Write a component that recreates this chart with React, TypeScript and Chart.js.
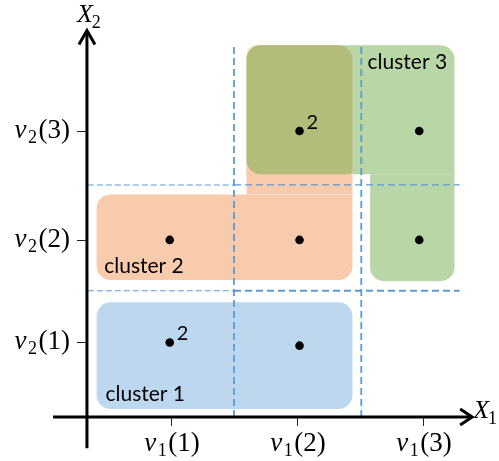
import React, { useEffect, useRef } from 'react';
import { Chart, registerables } from 'chart.js';

Chart.register(...registerables);

// ---- tick positions & labels (v1(k) on X1, v2(k) on X2)
const xTickValues = [1, 2, 3];
const xTickIndex = ['1', '2', '3'];
const yTickValues = [1, 1.97, 3];
const yTickIndex = ['1', '2', '3'];

// ---- observation points and their multiplicity notes
const pointX = [0.99, 2.02, 0.99, 2.02, 2.02, 2.97, 2.97];
const pointY = [1.0, 0.97, 1.97, 1.97, 3.0, 3.0, 1.97];
const pointCount = ['2', '', '', '', '2', '', ''];

// ---- dashed partition lines
const splitXValues = [1.5, 2.51];
const splitYValues = [1.49, 2.49];
const splitXSpan = [0.296, 3.82];
const splitYSpan = [0.34, 3.29];

// ---- cluster regions [x0, x1, y0, y1]
const cluster1Rects = [[0.41, 2.44, 0.37, 1.38]];
const cluster2Rects = [[0.41, 2.44, 1.59, 2.40], [1.6, 2.44, 2.40, 3.81]];
const cluster3Rects = [[1.6, 3.25, 2.59, 3.81], [2.58, 3.25, 1.58, 2.59]];
const overlapRect = [1.6, 2.44, 2.59, 3.81];

const clusterNames = ['cluster 1', 'cluster 2', 'cluster 3'];
const clusterLabelX = [0.48, 0.47, 2.56];
const clusterLabelY = [0.45, 1.66, 3.59];

// ---- axes
const origin = [0.333, 0.296];
const xAxisSpan = [0.064, 3.39];
const yAxisSpan = [0.0, 3.95];
const viewX = [-0.357, 3.603];
const viewY = [-0.1206, 4.2388];

const BLUE = '#BDD7EE';
const ORANGE = '#F8CBAD';
const GREEN = '#B9D7A6';
const OLIVE = '#B3BC7B';
const DASH = '#5B9BD5';

function roundedPath(ctx: CanvasRenderingContext2D, l: number, t: number, r: number, b: number, rad: number[]) {
  const [tl, tr, br, bl] = rad;
  ctx.beginPath();
  ctx.moveTo(l + tl, t);
  ctx.lineTo(r - tr, t);
  if (tr) ctx.arcTo(r, t, r, t + tr, tr); else ctx.lineTo(r, t);
  ctx.lineTo(r, b - br);
  if (br) ctx.arcTo(r, b, r - br, b, br); else ctx.lineTo(r, b);
  ctx.lineTo(l + bl, b);
  if (bl) ctx.arcTo(l, b, l, b - bl, bl); else ctx.lineTo(l, b);
  ctx.lineTo(l, t + tl);
  if (tl) ctx.arcTo(l, t, l + tl, t, tl); else ctx.lineTo(l, t);
  ctx.closePath();
}

const SERIF = '"Liberation Serif", "Times New Roman", serif';

function drawVLabel(ctx: CanvasRenderingContext2D, sub: string, idx: string, x: number, cy: number, align: 'center' | 'right') {
  const fMain = `italic 27px ${SERIF}`;
  const fUp = `27px ${SERIF}`;
  const fSub = `18px ${SERIF}`;
  ctx.font = fMain;
  const wv = ctx.measureText('v').width;
  ctx.font = fSub;
  const ws = ctx.measureText(sub).width;
  ctx.font = fUp;
  const wp = ctx.measureText('(' + idx + ')').width;
  const gap = 1.5;
  const total = wv + ws + wp + gap * 2;
  let x0 = align === 'center' ? x - total / 2 : x - total;
  const base = cy + 7;
  ctx.textAlign = 'left';
  ctx.textBaseline = 'alphabetic';
  ctx.fillStyle = '#000';
  ctx.font = fMain;
  ctx.fillText('v', x0, base);
  x0 += wv + gap;
  ctx.font = fSub;
  ctx.fillText(sub, x0, base + 5);
  x0 += ws + gap;
  ctx.font = fUp;
  ctx.fillText('(' + idx + ')', x0, base);
}

function drawXTitle(ctx: CanvasRenderingContext2D, sub: string, left: number, base: number) {
  ctx.textAlign = 'left';
  ctx.textBaseline = 'alphabetic';
  ctx.fillStyle = '#000';
  ctx.font = `italic 26px ${SERIF}`;
  ctx.fillText('X', left, base);
  const w = ctx.measureText('X').width;
  ctx.font = `18px ${SERIF}`;
  ctx.fillText(sub, left + w - 1, base + 6);
}

const regionsPlugin = {
  id: 'regions',
  beforeDatasetsDraw(chart: any) {
    const ctx: CanvasRenderingContext2D = chart.ctx;
    const xs = chart.scales.x;
    const ys = chart.scales.y;
    const fillRect = (rc: number[], color: string, rad: number[]) => {
      const l = xs.getPixelForValue(rc[0]);
      const r = xs.getPixelForValue(rc[1]);
      const t = ys.getPixelForValue(rc[3]);
      const b = ys.getPixelForValue(rc[2]);
      ctx.fillStyle = color;
      roundedPath(ctx, l, t, r, b, rad);
      ctx.fill();
    };
    ctx.save();
    fillRect(cluster1Rects[0], BLUE, [14, 14, 14, 14]);
    fillRect(cluster3Rects[0], GREEN, [14, 14, 0, 0]);
    fillRect(cluster3Rects[1], GREEN, [0, 0, 14, 14]);
    fillRect(cluster2Rects[0], ORANGE, [14, 0, 14, 14]);
    fillRect(cluster2Rects[1], ORANGE, [11, 20, 0, 0]);
    fillRect(overlapRect, OLIVE, [14, 14, 4, 14]);

    ctx.fillStyle = '#000';
    ctx.font = '21px Lato, "Open Sans", sans-serif';
    ctx.textAlign = 'left';
    ctx.textBaseline = 'alphabetic';
    clusterNames.forEach((name, i) => {
      ctx.fillText(name, xs.getPixelForValue(clusterLabelX[i]), ys.getPixelForValue(clusterLabelY[i]));
    });
    ctx.restore();
  },
};

const axesPlugin = {
  id: 'axesArrows',
  afterDatasetsDraw(chart: any) {
    const ctx: CanvasRenderingContext2D = chart.ctx;
    const xs = chart.scales.x;
    const ys = chart.scales.y;
    const ox = xs.getPixelForValue(origin[0]);
    const oy = ys.getPixelForValue(origin[1]);
    const xl = xs.getPixelForValue(xAxisSpan[0]);
    const xr = xs.getPixelForValue(xAxisSpan[1]);
    const yb = ys.getPixelForValue(yAxisSpan[0]);
    const yt = ys.getPixelForValue(yAxisSpan[1]);
    ctx.save();
    ctx.strokeStyle = '#000';
    ctx.lineWidth = 3;
    ctx.lineCap = 'butt';
    ctx.lineJoin = 'miter';
    // axes
    ctx.beginPath();
    ctx.moveTo(ox, yb);
    ctx.lineTo(ox, yt + 2);
    ctx.moveTo(xl, oy);
    ctx.lineTo(xr - 2, oy);
    ctx.stroke();
    // arrowheads
    ctx.beginPath();
    ctx.moveTo(ox - 8, yt + 14);
    ctx.lineTo(ox, yt);
    ctx.lineTo(ox + 8, yt + 14);
    ctx.moveTo(xr - 12, oy - 8);
    ctx.lineTo(xr, oy);
    ctx.lineTo(xr - 12, oy + 8);
    ctx.stroke();
    // ticks
    ctx.lineWidth = 1;
    ctx.strokeStyle = '#222';
    ctx.beginPath();
    xTickValues.forEach((v) => {
      const px = Math.round(xs.getPixelForValue(v)) + 0.5;
      ctx.moveTo(px, oy + 1);
      ctx.lineTo(px, oy + 9);
    });
    yTickValues.forEach((v) => {
      const py = Math.round(ys.getPixelForValue(v)) + 0.5;
      ctx.moveTo(ox - 10, py);
      ctx.lineTo(ox - 1, py);
    });
    ctx.stroke();
    // tick labels
    xTickValues.forEach((v, i) => {
      drawVLabel(ctx, '1', xTickIndex[i], xs.getPixelForValue(v) + 1, oy + 27, 'center');
    });
    yTickValues.forEach((v, i) => {
      drawVLabel(ctx, '2', yTickIndex[i], ox - 17, ys.getPixelForValue(v), 'right');
    });
    // axis titles
    drawXTitle(ctx, '2', ox - 10, yt - 9);
    drawXTitle(ctx, '1', xr + 1, oy + 1);
    // multiplicity notes
    ctx.fillStyle = '#000';
    ctx.font = '20px Lato, "Open Sans", sans-serif';
    ctx.textAlign = 'left';
    ctx.textBaseline = 'alphabetic';
    pointCount.forEach((c, i) => {
      if (!c) return;
      ctx.fillText(c, xs.getPixelForValue(pointX[i]) + 7, ys.getPixelForValue(pointY[i]) - 2);
    });
    ctx.restore();
  },
};

export default function App() {
  const ref = useRef<HTMLCanvasElement | null>(null);
  useEffect(() => {
    if (!ref.current) return;
    const datasets: any[] = [];
    splitXValues.forEach((v) => {
      datasets.push({
        data: [{ x: v, y: splitXSpan[0] }, { x: v, y: splitXSpan[1] }],
        showLine: true, pointRadius: 0, borderColor: DASH, borderWidth: 1.8,
        borderDash: [7, 4], order: 2,
      });
    });
    splitYValues.forEach((v, i) => {
      datasets.push({
        data: [{ x: splitYSpan[0], y: v }, { x: splitXValues[0], y: v }],
        showLine: true, pointRadius: 0, borderColor: DASH, borderWidth: 1.1,
        borderDash: [6, 3], order: 2,
      });
      datasets.push({
        data: [{ x: splitXValues[0], y: v }, { x: splitYSpan[1], y: v }],
        showLine: true, pointRadius: 0, borderColor: DASH, borderWidth: i === 0 ? 2 : 1.3,
        borderDash: [7, 4], order: 2,
      });
    });
    datasets.push({
      data: pointX.map((x, i) => ({ x, y: pointY[i] })),
      pointRadius: 4.3, pointBackgroundColor: '#000', pointBorderWidth: 0,
      showLine: false, order: 0,
    });
    const chart = new Chart(ref.current, {
      type: 'scatter',
      data: { datasets },
      options: {
        animation: false,
        responsive: true,
        maintainAspectRatio: false,
        events: [],
        layout: { padding: 0, autoPadding: false },
        plugins: { legend: { display: false }, tooltip: { enabled: false } },
        scales: {
          x: { type: 'linear', min: viewX[0], max: viewX[1], display: false },
          y: { type: 'linear', min: viewY[0], max: viewY[1], display: false },
        },
      } as any,
      plugins: [regionsPlugin, axesPlugin],
    });
    return () => chart.destroy();
  }, []);
  return (
    <div style={{ position: 'fixed', left: 0, top: 0, width: 499, height: 461, background: '#fff' }}>
      <canvas ref={ref} />
    </div>
  );
}
